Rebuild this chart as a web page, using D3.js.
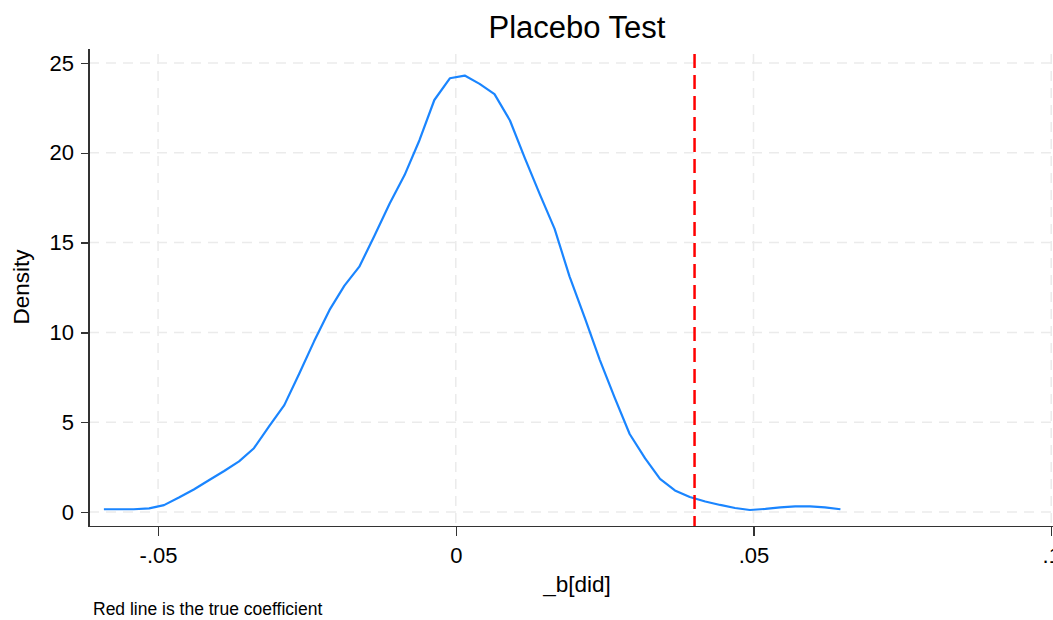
<!DOCTYPE html>
<meta charset="utf-8">
<style>
    body { margin: 0; background: #fff; }
    svg { font-family: "Liberation Sans", Arial, sans-serif; display: block; }
    .grid line { stroke: #ebebeb; stroke-width: 1.5; stroke-dasharray: 10,7; }
    .axis path, .axis line { stroke: #333; stroke-width: 1.5; shape-rendering: crispEdges; }
    .axis text { fill: #000; font-size: 22px; }
</style>
<body>
<script src="https://d3js.org/d3.v7.min.js"></script>
<script>
    // kernel density estimate of placebo coefficients (50 points)
    const bValues = [-0.0591, -0.0566, -0.0541, -0.0515, -0.0490, -0.0465, -0.0440, -0.0414, -0.0389, -0.0364,
                     -0.0339, -0.0313, -0.0288, -0.0263, -0.0238, -0.0212, -0.0187, -0.0162, -0.0137, -0.0111,
                     -0.0086, -0.0061, -0.0036, -0.0010, 0.0015, 0.0040, 0.0065, 0.0091, 0.0116, 0.0141,
                     0.0166, 0.0191, 0.0217, 0.0242, 0.0267, 0.0292, 0.0318, 0.0343, 0.0368, 0.0393,
                     0.0419, 0.0444, 0.0469, 0.0494, 0.0520, 0.0545, 0.0570, 0.0595, 0.0620, 0.0646];
    const density = [0.15, 0.15, 0.15, 0.2, 0.38, 0.8, 1.25, 1.78, 2.28, 2.82,
                     3.55, 4.8, 5.95, 7.7, 9.5, 11.25, 12.6, 13.66, 15.35, 17.18,
                     18.76, 20.7, 22.94, 24.15, 24.3, 23.84, 23.27, 21.8, 19.7, 17.7,
                     15.76, 13.12, 10.78, 8.46, 6.35, 4.34, 2.98, 1.84, 1.2, 0.83,
                     0.58, 0.39, 0.22, 0.11, 0.17, 0.25, 0.31, 0.31, 0.25, 0.15];
    const trueCoef = 0.0401;
    const xTicks = [-0.05, 0, 0.05, 0.1];
    const xTickLabels = ["-.05", "0", ".05", ".1"];
    const yTicks = [0, 5, 10, 15, 20, 25];

    const width = 1053, height = 620;
    const plotLeft = 89, plotRight = 1053, plotTop = 49, plotBottom = 526.5;

    const svg = d3.select("body").append("svg")
        .attr("width", width)
        .attr("height", height);

    const x = d3.scaleLinear().domain([-0.0616, 0.1003]).range([plotLeft, plotRight]);
    const y = d3.scaleLinear().domain([-0.81, 25.78]).range([plotBottom, plotTop]);

    // gridlines
    const grid = svg.append("g").attr("class", "grid");
    grid.selectAll(".hg").data(yTicks).enter().append("line")
        .attr("x1", plotLeft).attr("x2", plotRight)
        .attr("y1", d => y(d)).attr("y2", d => y(d));
    grid.selectAll(".vg").data(xTicks).enter().append("line")
        .attr("x1", d => x(d)).attr("x2", d => x(d))
        .attr("y1", plotTop + 5).attr("y2", plotBottom);

    // density curve
    const line = d3.line().x((d, i) => x(bValues[i])).y(d => y(d));
    svg.append("path")
        .datum(density)
        .attr("d", line)
        .attr("fill", "none")
        .attr("stroke", "#1a85ff")
        .attr("stroke-width", 2.2)
        .attr("stroke-linejoin", "round");

    // true coefficient
    svg.append("line")
        .attr("x1", x(trueCoef)).attr("x2", x(trueCoef))
        .attr("y1", plotTop + 5).attr("y2", plotBottom)
        .attr("stroke", "#ff0000")
        .attr("stroke-width", 2.5)
        .attr("stroke-dasharray", "14,7");

    // axes
    svg.append("g")
        .attr("class", "axis")
        .attr("transform", "translate(0," + plotBottom + ")")
        .call(d3.axisBottom(x).tickValues(xTicks).tickSize(9).tickPadding(12)
            .tickFormat((d, i) => xTickLabels[i]))
        .call(g => g.select(".domain").attr("d", "M" + plotLeft + ",0H" + plotRight));

    svg.append("g")
        .attr("class", "axis")
        .attr("transform", "translate(" + plotLeft + ",0)")
        .call(d3.axisLeft(y).tickValues(yTicks).tickSize(8).tickPadding(7))
        .call(g => g.select(".domain").attr("d", "M0," + plotTop + "V" + plotBottom));

    // titles
    svg.append("text")
        .attr("x", 577).attr("y", 38)
        .attr("text-anchor", "middle")
        .style("font-size", "31px")
        .text("Placebo Test");

    svg.append("text")
        .attr("x", 577).attr("y", 592)
        .attr("text-anchor", "middle")
        .style("font-size", "22.5px")
        .text("_b[did]");

    svg.append("text")
        .attr("transform", "translate(29,287) rotate(-90)")
        .attr("text-anchor", "middle")
        .style("font-size", "22.5px")
        .text("Density");

    svg.append("text")
        .attr("x", 93).attr("y", 615)
        .style("font-size", "17.5px")
        .text("Red line is the true coefficient");
</script>
</body>
</html>
